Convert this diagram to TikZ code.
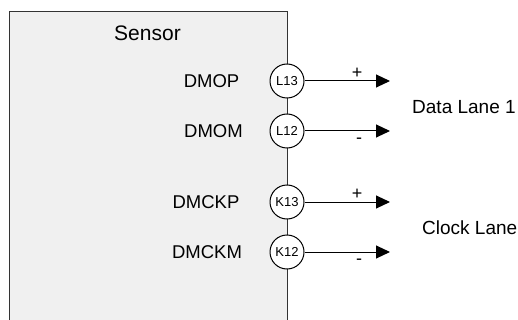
\documentclass[tikz,border=0pt]{standalone}
\usepackage{fontspec}
\setmainfont{Liberation Sans}
\usetikzlibrary{arrows.meta}
\definecolor{boxfill}{HTML}{F0F0F0}
\tikzset{
  pin/.style={circle, draw=black, fill=white, line width=1pt, minimum size=34pt, inner sep=0pt, font=\fontsize{13}{13}\selectfont},
  sig/.style={inner sep=0pt, font=\fontsize{18.5}{18.5}\selectfont},
  lane/.style={inner sep=0pt, anchor=west, font=\fontsize{19}{19}\selectfont},
  pol/.style={inner sep=0pt, font=\fontsize{18}{18}\selectfont},
  wire/.style={line width=1pt, -{Triangle[length=14pt,width=13pt]}}
}
\begin{document}
\begin{tikzpicture}[x=1pt,y=-1pt]
\useasboundingbox (0,0) rectangle (518,320);
\begin{scope}
\clip (0,0) rectangle (518,320);
\draw[fill=boxfill, draw=black!80, line width=1pt] (9,330) -- (9,12) -- (287,12) -- (287,330);
\end{scope}
\node[inner sep=0pt, font=\fontsize{21}{21}\selectfont] (sensor) at (147.5,33) {Sensor};
\node[sig] (dmop) at (211.5,81) {DMOP};
\node[sig] (dmom) at (213.5,131) {DMOM};
\node[sig] (dmckp) at (206,202) {DMCKP};
\node[sig] (dmckm) at (207,252) {DMCKM};
\node[pin] (l13) at (287,81) {L13};
\node[pin] (l12) at (287,131) {L12};
\node[pin] (k13) at (287,202) {K13};
\node[pin] (k12) at (287,252) {K12};
\coordinate (e1) at (390,81);
\coordinate (e2) at (390,131);
\coordinate (e3) at (390,202);
\coordinate (e4) at (390,252);
\draw[wire] (l13) -- (e1);
\draw[wire] (l12) -- (e2);
\draw[wire] (k13) -- (e3);
\draw[wire] (k12) -- (e4);
\node[pol] (p1) at (357,73) {+};
\node[pol] (m1) at (359,141) {-};
\node[pol] (p2) at (357,194) {+};
\node[pol] (m2) at (359,262) {-};
\node[lane] (dl) at (412,107) {Data Lane 1};
\node[lane] (cl) at (422,227.5) {Clock Lane};
\end{tikzpicture}
\end{document}
